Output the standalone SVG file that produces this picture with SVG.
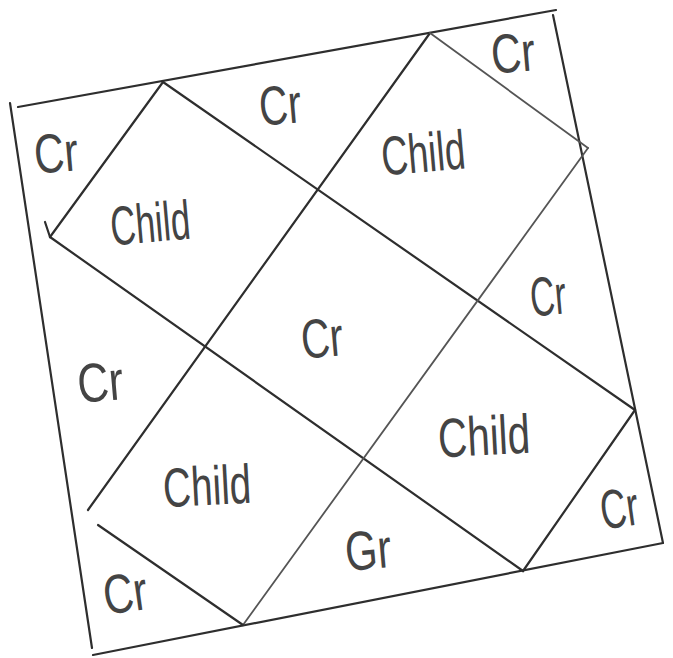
<svg xmlns="http://www.w3.org/2000/svg" width="673" height="658" viewBox="0 0 673 658">
<style>
.ln{stroke:#2e2e2e;stroke-width:2.2;fill:none;stroke-linecap:round}
.lt{stroke:#555;stroke-width:1.8;fill:none;stroke-linecap:round}
.t{font-family:"Liberation Sans",Arial,sans-serif;font-size:55px;fill:#444;text-anchor:middle}
</style>
<rect width="673" height="658" fill="#fff"/>
<g id="outer">
<path class="ln" d="M18,107 L556,10"/>
<path class="ln" d="M10,103 L92,648"/>
<path class="ln" d="M553,15 L663,543"/>
<path class="ln" d="M93,655 L663,543"/>
</g>
<g id="grid">
<path class="ln" d="M163,82 L635,410"/>
<path class="ln" d="M50,237 L523,571"/>
<path class="ln" d="M430,33 L88,510"/>
<path class="lt" d="M588,148 L243,625"/>
<path class="ln" d="M163,82 L50,237"/>
<path class="ln" d="M45,222 L50,237"/>
<path class="lt" d="M430,33 L588,148"/>
<path class="ln" d="M635,410 L523,571"/>
<path class="ln" d="M98,525 L243,625"/>
</g>
<g id="labels">
<text class="t" x="56" y="172" textLength="44" lengthAdjust="spacingAndGlyphs" transform="rotate(-5 56 152)">Cr</text>
<text class="t" x="280" y="124" textLength="42" lengthAdjust="spacingAndGlyphs" transform="rotate(-5 280 104)">Cr</text>
<text class="t" x="150" y="242" textLength="80" lengthAdjust="spacingAndGlyphs" transform="rotate(-5 150 222)">Child</text>
<text class="t" x="513" y="72" textLength="44" lengthAdjust="spacingAndGlyphs" transform="rotate(-5 513 53)">Cr</text>
<text class="t" x="423" y="172" textLength="84" lengthAdjust="spacingAndGlyphs" transform="rotate(-5 423 152)">Child</text>
<text class="t" x="548" y="315" textLength="36" lengthAdjust="spacingAndGlyphs" transform="rotate(-5 548 295)">Cr</text>
<text class="t" x="322" y="357" textLength="42" lengthAdjust="spacingAndGlyphs" transform="rotate(-5 322 338)">Cr</text>
<text class="t" x="100" y="401" textLength="46" lengthAdjust="spacingAndGlyphs" transform="rotate(-5 100 380)">Cr</text>
<text class="t" x="207" y="505" textLength="88" lengthAdjust="spacingAndGlyphs" transform="rotate(-3 207 485)">Child</text>
<text class="t" x="125" y="612" textLength="44" lengthAdjust="spacingAndGlyphs" transform="rotate(-8 125 592)">Cr</text>
<text class="t" x="484" y="455" textLength="92" lengthAdjust="spacingAndGlyphs" transform="rotate(-3 484 435)">Child</text>
<text class="t" x="368" y="569" textLength="46" lengthAdjust="spacingAndGlyphs" transform="rotate(-5 368 549)">Gr</text>
<text class="t" x="619" y="527" textLength="38" lengthAdjust="spacingAndGlyphs" transform="rotate(-8 619 507)">Cr</text>
</g>
</svg>
